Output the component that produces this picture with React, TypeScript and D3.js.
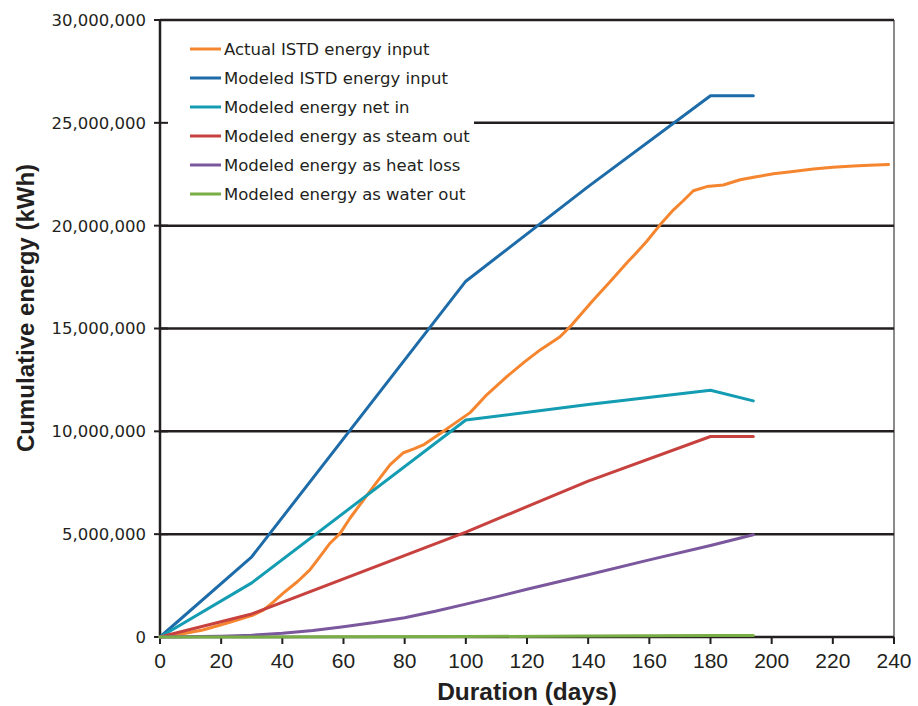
import React from "react";
import * as d3 from "d3";

const xTicks = [0, 20, 40, 60, 80, 100, 120, 140, 160, 180, 200, 220, 240];
const yTicks = [0, 5000000, 10000000, 15000000, 20000000, 25000000, 30000000];

const actualDays = [0, 7, 14, 22, 30.5, 33.8, 37, 40.3, 45, 49, 52, 55.6, 58.9, 62, 66.5, 71, 75.2, 79.6, 83, 86.1, 91.6, 96, 101.4, 107, 113.4, 119, 124.3, 130.8, 134.1, 138, 141.7, 147, 152.6, 156, 159.1, 163.5, 167.9, 171, 174.4, 178.8, 184.2, 189.7, 195, 200.6, 207, 213.6, 220, 226.7, 232, 238.2];
const actualIn = [0, 0.15, 0.34, 0.68, 1.07, 1.31, 1.7, 2.13, 2.7, 3.26, 3.85, 4.56, 5.04, 5.75, 6.66, 7.55, 8.37, 8.96, 9.15, 9.34, 9.9, 10.35, 10.91, 11.8, 12.66, 13.35, 13.96, 14.6, 15.09, 15.75, 16.39, 17.25, 18.18, 18.72, 19.23, 20.04, 20.77, 21.2, 21.7, 21.9, 21.98, 22.23, 22.38, 22.52, 22.63, 22.76, 22.84, 22.9, 22.94, 22.97];

const modelDays = [0, 30, 100, 140, 180, 194];
const modeledInput = [0, 3.9, 17.3, 21.9, 26.32, 26.32];
const modeledNetIn = [0, 2.63, 10.55, 11.3, 12.0, 11.48];
const modeledSteam = [0, 1.12, 5.1, 7.58, 9.75, 9.75];

const heatDays = [0, 20, 30, 40, 50, 60, 70, 80, 90, 100, 110, 120, 140, 160, 180, 194];
const modeledHeat = [0, 0.04, 0.09, 0.18, 0.32, 0.5, 0.7, 0.94, 1.25, 1.6, 1.95, 2.32, 3.03, 3.75, 4.45, 4.97];

const waterDays = [0, 60, 100, 140, 180, 194];
const modeledWater = [0, 0.01, 0.02, 0.05, 0.07, 0.07];

const seriesNames = [
  "Actual ISTD energy input",
  "Modeled ISTD energy input",
  "Modeled energy net in",
  "Modeled energy as steam out",
  "Modeled energy as heat loss",
  "Modeled energy as water out",
];
const seriesColors = ["#f5862f", "#1d6ca9", "#139cb2", "#c7413e", "#7b579e", "#79ad45"];

const series = [
  { days: actualDays, vals: actualIn },
  { days: modelDays, vals: modeledInput },
  { days: modelDays, vals: modeledNetIn },
  { days: modelDays, vals: modeledSteam },
  { days: heatDays, vals: modeledHeat },
  { days: waterDays, vals: modeledWater },
];

export default function App() {
  const W = 918, H = 706;
  const left = 160, right = 894, top = 20, bottom = 637;
  const x = d3.scaleLinear().domain([0, 240]).range([left, right]);
  const y = d3.scaleLinear().domain([0, 30000000]).range([bottom, top]);
  const line = d3
    .line<[number, number]>()
    .x((d) => x(d[0]))
    .y((d) => y(d[1] * 1e6));
  const fmt = d3.format(",");
  const ink = "#231f20";
  const sans = "'Liberation Sans', Arial, Helvetica, sans-serif";
  const wide = "'DejaVu Sans', sans-serif";

  return (
    <svg width={W} height={H} style={{ position: "absolute", left: 0, top: 0, background: "#fff" }}>
      <rect x={0} y={0} width={W} height={H} fill="#fff" />
      {/* right border */}
      <line x1={right} x2={right} y1={top} y2={bottom} stroke="#8a8a8a" strokeWidth={2} />
      {/* gridlines */}
      {yTicks.filter((t) => t > 0).map((t) => (
        <line key={"g" + t} x1={left} x2={right} y1={y(t)} y2={y(t)} stroke={ink} strokeWidth={2.5} />
      ))}
      {/* legend background */}
      <rect x={left + 1} y={22} width={313} height={194} fill="#fff" />
      {/* axes */}
      <line x1={left} x2={left} y1={top} y2={bottom + 1} stroke={ink} strokeWidth={2.5} />
      <line x1={left} x2={right} y1={bottom} y2={bottom} stroke={ink} strokeWidth={2.5} />
      {yTicks.map((t) => (
        <g key={"y" + t}>
          <line x1={left - 6} x2={left + 8} y1={y(t)} y2={y(t)} stroke={ink} strokeWidth={2} />
          <text x={146} y={y(t)} dy="0.36em" textAnchor="end" fontFamily={wide} fontSize={16.5} fill={ink}>
            {fmt(t)}
          </text>
        </g>
      ))}
      {xTicks.map((t) => (
        <g key={"x" + t}>
          <line x1={x(t)} x2={x(t)} y1={bottom} y2={bottom + 7} stroke={ink} strokeWidth={2} />
          <text x={x(t)} y={667.5} textAnchor="middle" fontFamily={sans} fontSize={21} fill={ink}>
            {t}
          </text>
        </g>
      ))}
      {/* series */}
      {series.map((s, i) => (
        <path
          key={"s" + i}
          d={line(s.days.map((d, j) => [d, s.vals[j]] as [number, number])) || ""}
          fill="none"
          stroke={seriesColors[i]}
          strokeWidth={3}
          strokeLinejoin="round"
          strokeLinecap="round"
        />
      ))}
      {/* axis titles */}
      <text x={527} y={700} textAnchor="middle" fontFamily={sans} fontWeight="bold" fontSize={24.5} fill={ink}>
        Duration (days)
      </text>
      <text
        transform="translate(34,308) rotate(-90)"
        textAnchor="middle"
        fontFamily={sans}
        fontWeight="bold"
        fontSize={24}
        fill={ink}
      >
        Cumulative energy (kWh)
      </text>
      {/* legend */}
      {seriesNames.map((n, i) => {
        const ly = 49 + i * 29;
        return (
          <g key={"l" + i}>
            <line x1={190} x2={221} y1={ly} y2={ly} stroke={seriesColors[i]} strokeWidth={3} />
            <text x={224} y={ly} dy="0.36em" fontFamily={wide} fontSize={16.5} fill={ink}>
              {n}
            </text>
          </g>
        );
      })}
    </svg>
  );
}
